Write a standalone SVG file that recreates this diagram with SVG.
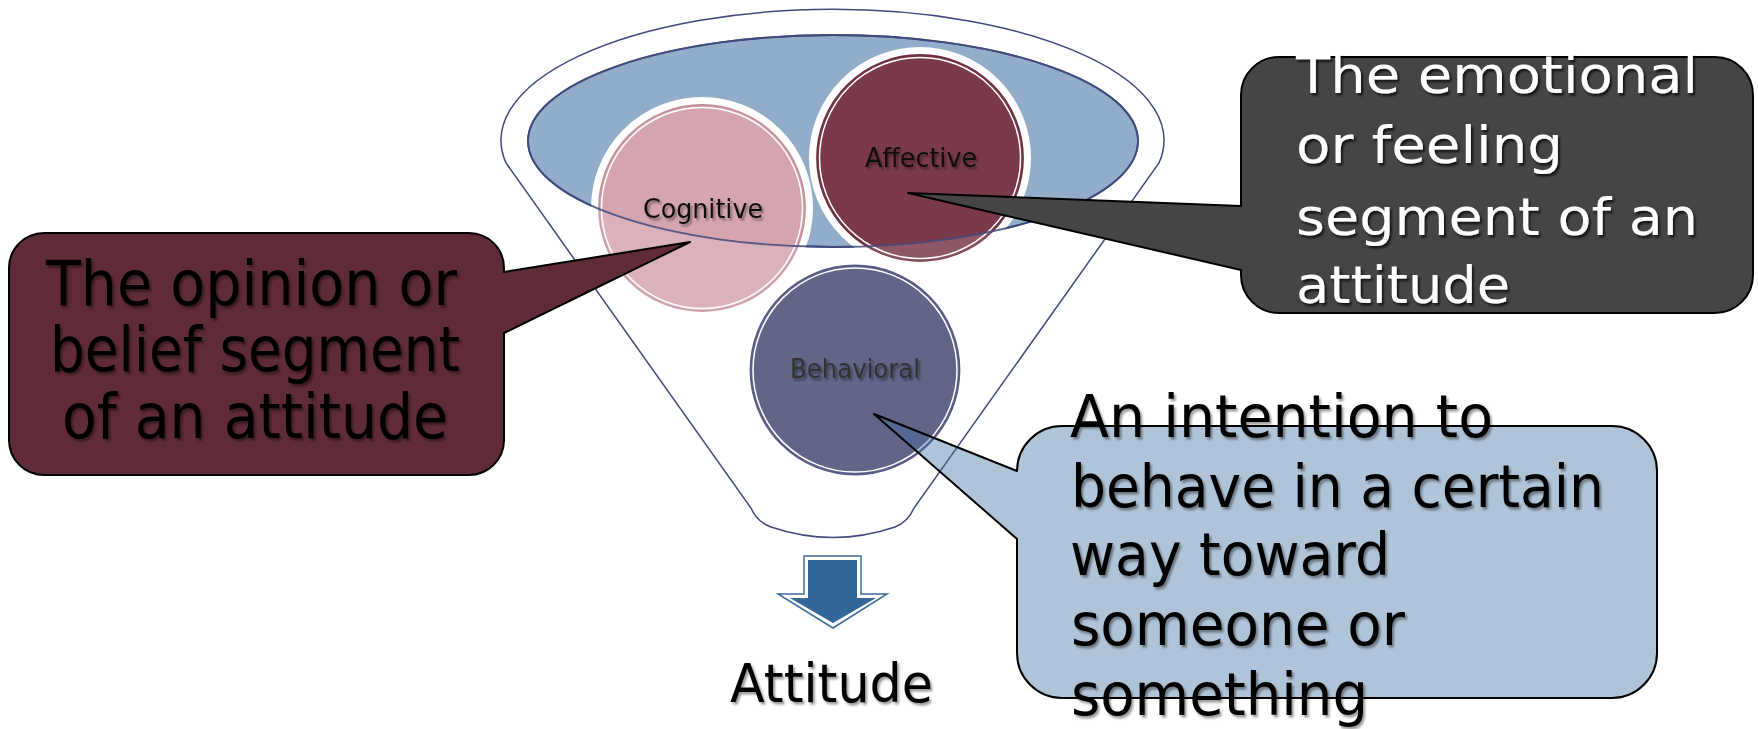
<svg xmlns="http://www.w3.org/2000/svg" width="1758" height="729" viewBox="0 0 1758 729">
<style>
  .t { font-family: "DejaVu Sans", "Liberation Sans", sans-serif; }
  .big { font-size: 63px; fill: #000; }
  .wht { font-size: 51px; fill: #fff; }
  .beh { font-size: 59px; fill: #000; }
  .lbl { font-size: 26px; }
  .callout { stroke: #000; stroke-width: 2; stroke-linejoin: round; }
  .band { fill: none; stroke: #fff; stroke-width: 8; }
  .inner { fill: none; stroke: #fff; stroke-width: 1.5; }
  .lighten { fill: #fff; fill-opacity: 0.15; fill-rule: evenodd; }
</style>
<defs>
  <filter id="sh" x="-10%" y="-20%" width="130%" height="150%">
    <feDropShadow dx="2" dy="2.5" stdDeviation="1.3" flood-color="#000" flood-opacity="0.4"/>
  </filter>
  <filter id="shw" x="-10%" y="-20%" width="130%" height="150%">
    <feDropShadow dx="2" dy="2.5" stdDeviation="1.3" flood-color="#000" flood-opacity="0.7"/>
  </filter>
  <path id="outsideEllipse" d="M 0,0 H 1758 V 729 H 0 Z M 528,141 A 305 106 0 1 0 1138,141 A 305 106 0 1 0 528,141 Z"/>
  <clipPath id="clipCog"><circle cx="702" cy="208" r="104"/></clipPath>
  <clipPath id="clipAff"><circle cx="920" cy="158" r="104"/></clipPath>
</defs>
<rect width="1758" height="729" fill="#fff"/>

<g id="funnel">
  <path d="M 506,163 A 331.5 131 0 1 1 1159,163 L 914,508 Q 908,522 895,527 Q 833,548 771,527 Q 757,522 751,508 Z" fill="#fff" stroke="#3f4a7c" stroke-width="1.5"/>
  <ellipse cx="833" cy="141" rx="305" ry="106" fill="#91adc9" stroke="#3f4a7c" stroke-width="1.8"/>
</g>

<g id="cognitive">
  <circle cx="702" cy="208" r="107" class="band"/>
  <circle cx="702" cy="208" r="103" fill="#d5a5af" stroke="#c48f9b" stroke-width="1.8"/>
  <circle cx="702" cy="208" r="100.5" class="inner"/>
  <use href="#outsideEllipse" class="lighten" clip-path="url(#clipCog)"/>
</g>

<g id="affective">
  <circle cx="920" cy="158" r="107" class="band"/>
  <circle cx="920" cy="158" r="103" fill="#7b3a4a" stroke="#6e3040" stroke-width="1.8"/>
  <circle cx="920" cy="158" r="100.5" class="inner"/>
  <use href="#outsideEllipse" class="lighten" clip-path="url(#clipAff)"/>
</g>

<g id="ellipse-edge">
  <ellipse cx="833" cy="141" rx="305" ry="106" fill="none" stroke="#3f4a7c" stroke-width="1.8" stroke-opacity="0.85"/>
</g>

<g id="behavioral">
  <circle cx="855" cy="370" r="104.5" fill="#626488" stroke="#585c8a" stroke-width="1.8"/>
  <circle cx="855" cy="370" r="102" class="inner"/>
</g>

<g id="labels">
  <text class="t lbl" x="643" y="218" textLength="120" lengthAdjust="spacingAndGlyphs" fill="#111" filter="url(#sh)">Cognitive</text>
  <text class="t lbl" x="865" y="167" textLength="112" lengthAdjust="spacingAndGlyphs" fill="#111" filter="url(#sh)">Affective</text>
  <text class="t lbl" x="790" y="378" textLength="130" lengthAdjust="spacingAndGlyphs" fill="#333" filter="url(#sh)">Behavioral</text>
</g>

<g id="connectors">
  <path id="cognitive-callout-shape" class="callout" fill="#5e2b36" d="M 44,233 H 469 A 35 35 0 0 1 504,268 V 272 L 690,242 L 504,333 V 440 A 35 35 0 0 1 469,475 H 44 A 35 35 0 0 1 9,440 V 268 A 35 35 0 0 1 44,233 Z"/>
  <path id="affective-callout-shape" class="callout" fill="#454545" d="M 1279,57 H 1715 A 38 38 0 0 1 1753,95 V 275 A 38 38 0 0 1 1715,313 H 1279 A 38 38 0 0 1 1241,275 V 270 L 908,193 L 1241,206 V 95 A 38 38 0 0 1 1279,57 Z"/>
  <path id="behavioral-callout-shape" class="callout" fill="#4070a3" fill-opacity="0.41" d="M 1062,426 H 1612 A 45 45 0 0 1 1657,471 V 653 A 45 45 0 0 1 1612,698 H 1062 A 45 45 0 0 1 1017,653 V 539 L 874,414 L 1017,471 A 45 45 0 0 1 1062,426 Z"/>
</g>

<g id="cognitive-callout">
  <text class="t big" filter="url(#sh)">
    <tspan x="46" y="305" textLength="411" lengthAdjust="spacingAndGlyphs">The opinion or</tspan>
    <tspan x="50" y="371" textLength="410" lengthAdjust="spacingAndGlyphs">belief segment</tspan>
    <tspan x="62" y="438" textLength="386" lengthAdjust="spacingAndGlyphs">of an attitude</tspan>
  </text>
</g>

<g id="affective-callout">
  <text class="t wht" filter="url(#shw)">
    <tspan x="1296" y="93" textLength="402" lengthAdjust="spacingAndGlyphs">The emotional</tspan>
    <tspan x="1296" y="163" textLength="267" lengthAdjust="spacingAndGlyphs">or feeling</tspan>
    <tspan x="1296" y="235" textLength="402" lengthAdjust="spacingAndGlyphs">segment of an</tspan>
    <tspan x="1296" y="303" textLength="214" lengthAdjust="spacingAndGlyphs">attitude</tspan>
  </text>
</g>

<g id="behavioral-callout">
  <text class="t beh" filter="url(#sh)">
    <tspan x="1070" y="437" textLength="423" lengthAdjust="spacingAndGlyphs">An intention to</tspan>
    <tspan x="1071" y="507" textLength="533" lengthAdjust="spacingAndGlyphs">behave in a certain</tspan>
    <tspan x="1070" y="575" textLength="320" lengthAdjust="spacingAndGlyphs">way toward</tspan>
    <tspan x="1071" y="645" textLength="334" lengthAdjust="spacingAndGlyphs">someone or</tspan>
    <tspan x="1071" y="715" textLength="297" lengthAdjust="spacingAndGlyphs">something</tspan>
  </text>
</g>

<g id="attitude">
  <polygon points="804,556 861,556 861,594 887,594 833,628 778,594 804,594" fill="#fff" stroke="#3c6c9c" stroke-width="1.5" stroke-linejoin="miter"/>
  <polygon points="808,560 857,560 857,598 876,598 833,623 790,598 808,598" fill="#336699"/>
  <text class="t" x="730" y="702" font-size="54" textLength="203" lengthAdjust="spacingAndGlyphs" fill="#000" filter="url(#sh)">Attitude</text>
</g>
</svg>
